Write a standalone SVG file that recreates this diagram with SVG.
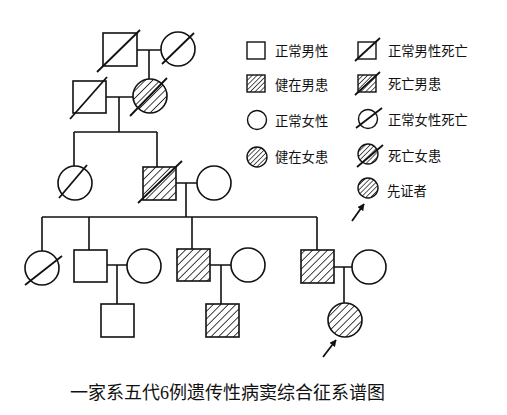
<svg xmlns="http://www.w3.org/2000/svg" width="507" height="415" viewBox="0 0 507 415">
<style>
.s{fill:#fff;stroke:#111;stroke-width:1.6}
.h{fill:url(#hatch);stroke:#111;stroke-width:1.6}
.hl{fill:url(#hatchS);stroke:#111;stroke-width:1.4}
.sl{fill:#fff;stroke:#111;stroke-width:1.4}
.d{stroke:#111;stroke-width:1.8;fill:none}
.c{stroke:#111;stroke-width:1.6;fill:none}
.t{font-family:"Liberation Serif","Noto Sans CJK SC",serif;font-size:13.3px;fill:#111}
.cap{font-family:"Liberation Serif","Noto Sans CJK SC",serif;font-size:18px;fill:#111}
</style>
<defs>
<pattern id="hatch" patternUnits="userSpaceOnUse" width="5.3" height="5.3" patternTransform="rotate(45)">
<rect width="5.3" height="5.3" fill="#fff"/>
<line x1="0" y1="0" x2="0" y2="5.3" stroke="#111" stroke-width="1.6"/>
</pattern>
<pattern id="hatchS" patternUnits="userSpaceOnUse" width="3.4" height="3.4" patternTransform="rotate(45)">
<rect width="3.4" height="3.4" fill="#fff"/>
<line x1="0" y1="0" x2="0" y2="3.4" stroke="#111" stroke-width="1.4"/>
</pattern>
<marker id="ah" viewBox="0 0 10 10" refX="9" refY="5" markerWidth="7" markerHeight="7" orient="auto" markerUnits="userSpaceOnUse">
<path d="M0,0 L10,5 L0,10 Z" fill="#111"/>
</marker>
</defs>

<g id="connectors">
<path class="c" d="M137,50 H161 M149,50 V79"/>
<path class="c" d="M106,97 H133 M119,97 V132 M74,132 H157 M74,132 V166 M157,132 V167"/>
<path class="c" d="M176,183 H197 M186,183 V217 M42,217 H317 M42,217 V251 M89,217 V250 M192,217 V249 M317,217 V250"/>
<path class="c" d="M107,265 H127 M117,265 V304"/>
<path class="c" d="M210,265 H231 M221,265 V304"/>
<path class="c" d="M334,267 H352 M344,267 V303"/>
<line class="d" x1="323" y1="357" x2="336" y2="340" marker-end="url(#ah)"/>
</g>

<g id="I-1"><rect class="s" x="103" y="33" width="34" height="33"/><line class="d" x1="97" y1="72" x2="140" y2="30"/></g>
<g id="I-2"><circle class="s" cx="178" cy="49" r="17"/><line class="d" x1="162" y1="64" x2="194" y2="33"/></g>
<g id="II-1"><rect class="s" x="73" y="81" width="33" height="32"/><line class="d" x1="70" y1="119" x2="107" y2="77"/></g>
<g id="II-2"><circle class="h" cx="150" cy="96" r="17"/><line class="d" x1="130" y1="116" x2="167" y2="78"/></g>
<g id="III-1"><circle class="s" cx="75" cy="183" r="17"/><line class="d" x1="59" y1="198" x2="87" y2="165"/></g>
<g id="III-2"><rect class="h" x="143" y="167" width="33" height="33"/><line class="d" x1="138" y1="203" x2="182" y2="161"/></g>
<g id="III-3"><circle class="s" cx="214" cy="183" r="17"/></g>
<g id="IV-1"><circle class="s" cx="42" cy="268" r="17"/><line class="d" x1="25" y1="285" x2="62" y2="256"/></g>
<g id="IV-2"><rect class="s" x="74" y="250" width="33" height="32"/></g>
<g id="IV-3"><circle class="s" cx="144" cy="266" r="17"/></g>
<g id="IV-4"><rect class="h" x="177" y="249" width="33" height="32"/></g>
<g id="IV-5"><circle class="s" cx="248" cy="265" r="17"/></g>
<g id="IV-6"><rect class="h" x="301" y="250" width="33" height="33"/></g>
<g id="IV-7"><circle class="s" cx="369" cy="267" r="17"/></g>
<g id="V-1"><rect class="s" x="101" y="304" width="33" height="33"/></g>
<g id="V-2"><rect class="h" x="206" y="304" width="33" height="33"/></g>
<g id="V-3"><circle class="h" cx="345" cy="320" r="17"/></g>

<g id="legend">
<rect class="sl" x="247" y="42" width="18" height="17"/><text class="t" x="275" y="55.5">正常男性</text>
<rect class="sl" x="358" y="42" width="18" height="17"/><line class="d" x1="355" y1="61" x2="380" y2="38"/><text class="t" x="388" y="55.5">正常男性死亡</text>
<rect class="hl" x="247" y="75" width="18" height="17"/><text class="t" x="275" y="90">健在男患</text>
<rect class="hl" x="358" y="75" width="18" height="17"/><line class="d" x1="355" y1="95" x2="380" y2="72"/><text class="t" x="388" y="89">死亡男患</text>
<circle class="sl" cx="257" cy="120" r="9.5"/><text class="t" x="275" y="125.5">正常女性</text>
<circle class="sl" cx="368" cy="119" r="9.5"/><line class="d" x1="356" y1="128" x2="382" y2="108"/><text class="t" x="388" y="125">正常女性死亡</text>
<circle class="hl" cx="257" cy="157" r="10"/><text class="t" x="275" y="162">健在女患</text>
<circle class="hl" cx="368" cy="154" r="10"/><line class="d" x1="357" y1="167" x2="383" y2="145"/><text class="t" x="388" y="160.5">死亡女患</text>
<circle class="hl" cx="368" cy="188" r="10"/><text class="t" x="387" y="196">先证者</text>
<line class="d" x1="352" y1="221" x2="364" y2="204" marker-end="url(#ah)"/>
</g>

<text class="cap" x="70" y="399">一家系五代6例遗传性病窦综合征系谱图</text>
</svg>
